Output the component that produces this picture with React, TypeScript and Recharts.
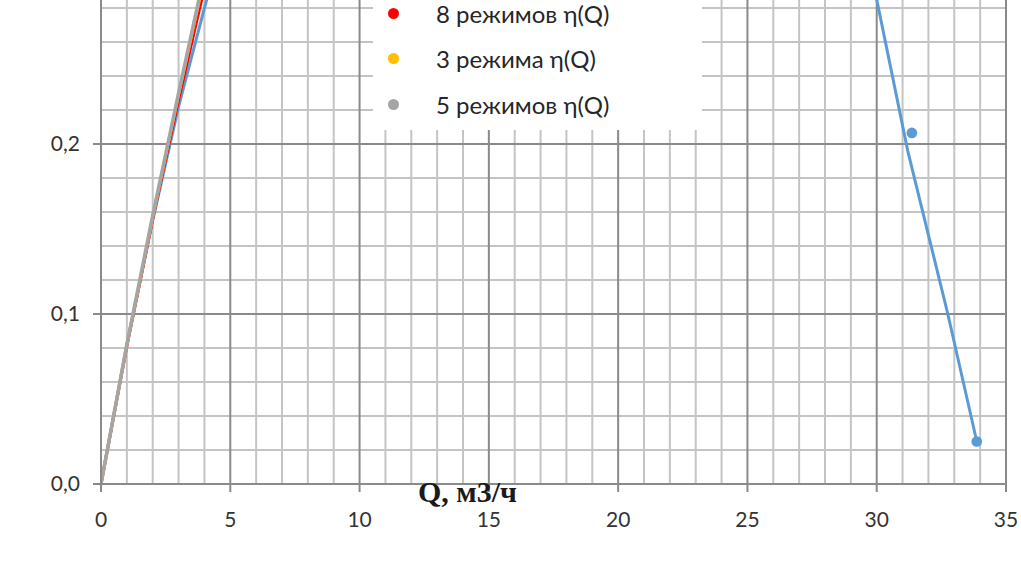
import React from 'react';
import {
  ComposedChart,
  Line,
  Scatter,
  XAxis,
  YAxis,
  ZAxis,
  ReferenceLine,
  Legend,
} from 'recharts';

// ---- data ----
const blueCurve = [
  { q: 0, eta: 0 },
  { q: 1, eta: 0.082 },
  { q: 2, eta: 0.155 },
  { q: 3, eta: 0.222 },
  { q: 4, eta: 0.28 },
  { q: 5, eta: 0.335 },
  { q: 8, eta: 0.47 },
  { q: 12, eta: 0.58 },
  { q: 17, eta: 0.63 },
  { q: 22, eta: 0.6 },
  { q: 26, eta: 0.5 },
  { q: 29, eta: 0.36 },
  { q: 30, eta: 0.285 },
  { q: 31.2, eta: 0.196 },
  { q: 32.75, eta: 0.1 },
  { q: 33.87, eta: 0.025 },
];

const bluePoints = [
  { q: 31.36, eta: 0.2065 },
  { q: 33.87, eta: 0.025 },
];

const red8 = [
  { q: 0, eta: 0 },
  { q: 1, eta: 0.081 },
  { q: 2, eta: 0.156 },
  { q: 3, eta: 0.226 },
  { q: 4, eta: 0.292 },
  { q: 5, eta: 0.35 },
];

const yellow3 = [
  { q: 0, eta: 0 },
  { q: 1, eta: 0.082 },
  { q: 2, eta: 0.157 },
  { q: 3, eta: 0.229 },
  { q: 4, eta: 0.298 },
  { q: 5, eta: 0.365 },
];

const gray5 = [
  { q: 0, eta: 0 },
  { q: 1, eta: 0.082 },
  { q: 2, eta: 0.158 },
  { q: 3, eta: 0.23 },
  { q: 4, eta: 0.3 },
  { q: 5, eta: 0.37 },
];

const xTicks = [0, 5, 10, 15, 20, 25, 30, 35];
const yTicks = [0, 0.1, 0.2];
const xMinor = [1, 2, 3, 4, 6, 7, 8, 9, 11, 12, 13, 14, 16, 17, 18, 19, 21, 22, 23, 24, 26, 27, 28, 29, 31, 32, 33, 34];
const xMajor = [5, 10, 15, 20, 25, 30, 35];
const yMinor = [0.02, 0.04, 0.06, 0.08, 0.12, 0.14, 0.16, 0.18, 0.22, 0.24, 0.26, 0.28];
const yMajor = [0.1, 0.2, 0.3];

const legendOrder = ['8 режимов η(Q)', '3 режима η(Q)', '5 режимов η(Q)'];

const BLUE = '#5b9bd5';
const RED = '#ff0000';
const YELLOW = '#ffc000';
const GRAY = '#a5a5a5';
const MINOR = '#c4c4c4';
const MAJOR = '#8a8a8a';
const TEXT = '#333333';

const fmtY = (v: number) => v.toFixed(1).replace('.', ',');

const LegendBox = (props: any) => {
  const payload = (props.payload || [])
    .filter((p: any) => p.type !== 'none' && legendOrder.indexOf(p.value) >= 0)
    .slice()
    .sort((a: any, b: any) => legendOrder.indexOf(a.value) - legendOrder.indexOf(b.value));
  return (
    <div
      style={{
        background: '#ffffff',
        width: 329,
        height: 156,
        position: 'relative',
        fontFamily: 'Lato, "Open Sans", sans-serif',
        fontSize: 24,
        color: '#262626',
      }}
    >
      {payload.map((p: any, i: number) => (
        <div
          key={i}
          style={{
            position: 'absolute',
            left: 0,
            top: 39 + i * 45.5 - 15,
            height: 30,
            display: 'flex',
            alignItems: 'center',
            whiteSpace: 'nowrap',
          }}
        >
          <span
            style={{
              display: 'inline-block',
              width: 11,
              height: 11,
              borderRadius: '50%',
              background: p.color,
              marginLeft: 15,
              marginRight: 37,
            }}
          />
          <span>{p.value}</span>
        </div>
      ))}
    </div>
  );
};

export default function App() {
  return (
    <div
      style={{
        position: 'absolute',
        left: 0,
        top: 0,
        width: 1021,
        height: 563,
        overflow: 'hidden',
        background: '#ffffff',
      }}
    >
      <div style={{ position: 'absolute', left: 0, top: -26 }}>
        <ComposedChart
          width={1021}
          height={589}
          margin={{ top: 0, right: 15, bottom: 29, left: 0 }}
        >
          <XAxis
            dataKey="q"
            type="number"
            domain={[0, 35]}
            ticks={xTicks}
            allowDataOverflow
            tickSize={8}
            tickMargin={20}
            height={50}
            axisLine={{ stroke: MAJOR, strokeWidth: 2 }}
            tickLine={{ stroke: MAJOR, strokeWidth: 2 }}
            tick={{ fill: TEXT, fontSize: 21, fontFamily: 'Lato, sans-serif' }}
            interval={0}
          />
          <YAxis
            dataKey="eta"
            type="number"
            domain={[0, 0.3]}
            ticks={yTicks}
            allowDataOverflow
            width={101}
            tickSize={8}
            tickMargin={13}
            tickFormatter={fmtY}
            axisLine={{ stroke: MAJOR, strokeWidth: 2 }}
            tickLine={{ stroke: MAJOR, strokeWidth: 2 }}
            tick={{ fill: TEXT, fontSize: 21, fontFamily: 'Lato, sans-serif' }}
            interval={0}
          />
          <ZAxis range={[90, 90]} />
          {xMinor.map((v) => (
            <ReferenceLine key={'xm' + v} x={v} stroke={MINOR} strokeWidth={2} />
          ))}
          {yMinor.map((v) => (
            <ReferenceLine key={'ym' + v} y={v} stroke={MINOR} strokeWidth={2} />
          ))}
          {xMajor.map((v) => (
            <ReferenceLine key={'xM' + v} x={v} stroke={MAJOR} strokeWidth={2} />
          ))}
          {yMajor.map((v) => (
            <ReferenceLine key={'yM' + v} y={v} stroke={MAJOR} strokeWidth={2} />
          ))}
          <Line
            data={blueCurve}
            dataKey="eta"
            type="linear"
            stroke={BLUE}
            strokeWidth={3}
            dot={false}
            legendType="none"
            isAnimationActive={false}
          />
          <Scatter
            data={bluePoints}
            dataKey="eta"
            fill={BLUE}
            legendType="none"
            isAnimationActive={false}
          />
          <Line
            data={red8}
            dataKey="eta"
            name={legendOrder[0]}
            type="linear"
            stroke={RED}
            strokeWidth={3}
            dot={false}
            legendType="circle"
            isAnimationActive={false}
          />
          <Line
            data={yellow3}
            dataKey="eta"
            name={legendOrder[1]}
            type="linear"
            stroke={YELLOW}
            strokeWidth={3}
            dot={false}
            legendType="circle"
            isAnimationActive={false}
          />
          <Line
            data={gray5}
            dataKey="eta"
            name={legendOrder[2]}
            type="linear"
            stroke={GRAY}
            strokeWidth={3.5}
            dot={false}
            legendType="circle"
            isAnimationActive={false}
          />
          <Legend
            layout="horizontal"
            verticalAlign="middle"
            align="center"
            content={<LegendBox />}
            wrapperStyle={{ position: 'absolute', left: 373, top: 0, width: 329, height: 156 }}
          />
        </ComposedChart>
      </div>
      <div
        style={{
          position: 'absolute',
          left: 418,
          top: 477,
          fontFamily: '"Liberation Serif", "Times New Roman", serif',
          fontWeight: 'bold',
          fontSize: 30,
          lineHeight: '30px',
          color: '#1a1a1a',
          whiteSpace: 'nowrap',
        }}
      >
        Q, м3/ч
      </div>
    </div>
  );
}
